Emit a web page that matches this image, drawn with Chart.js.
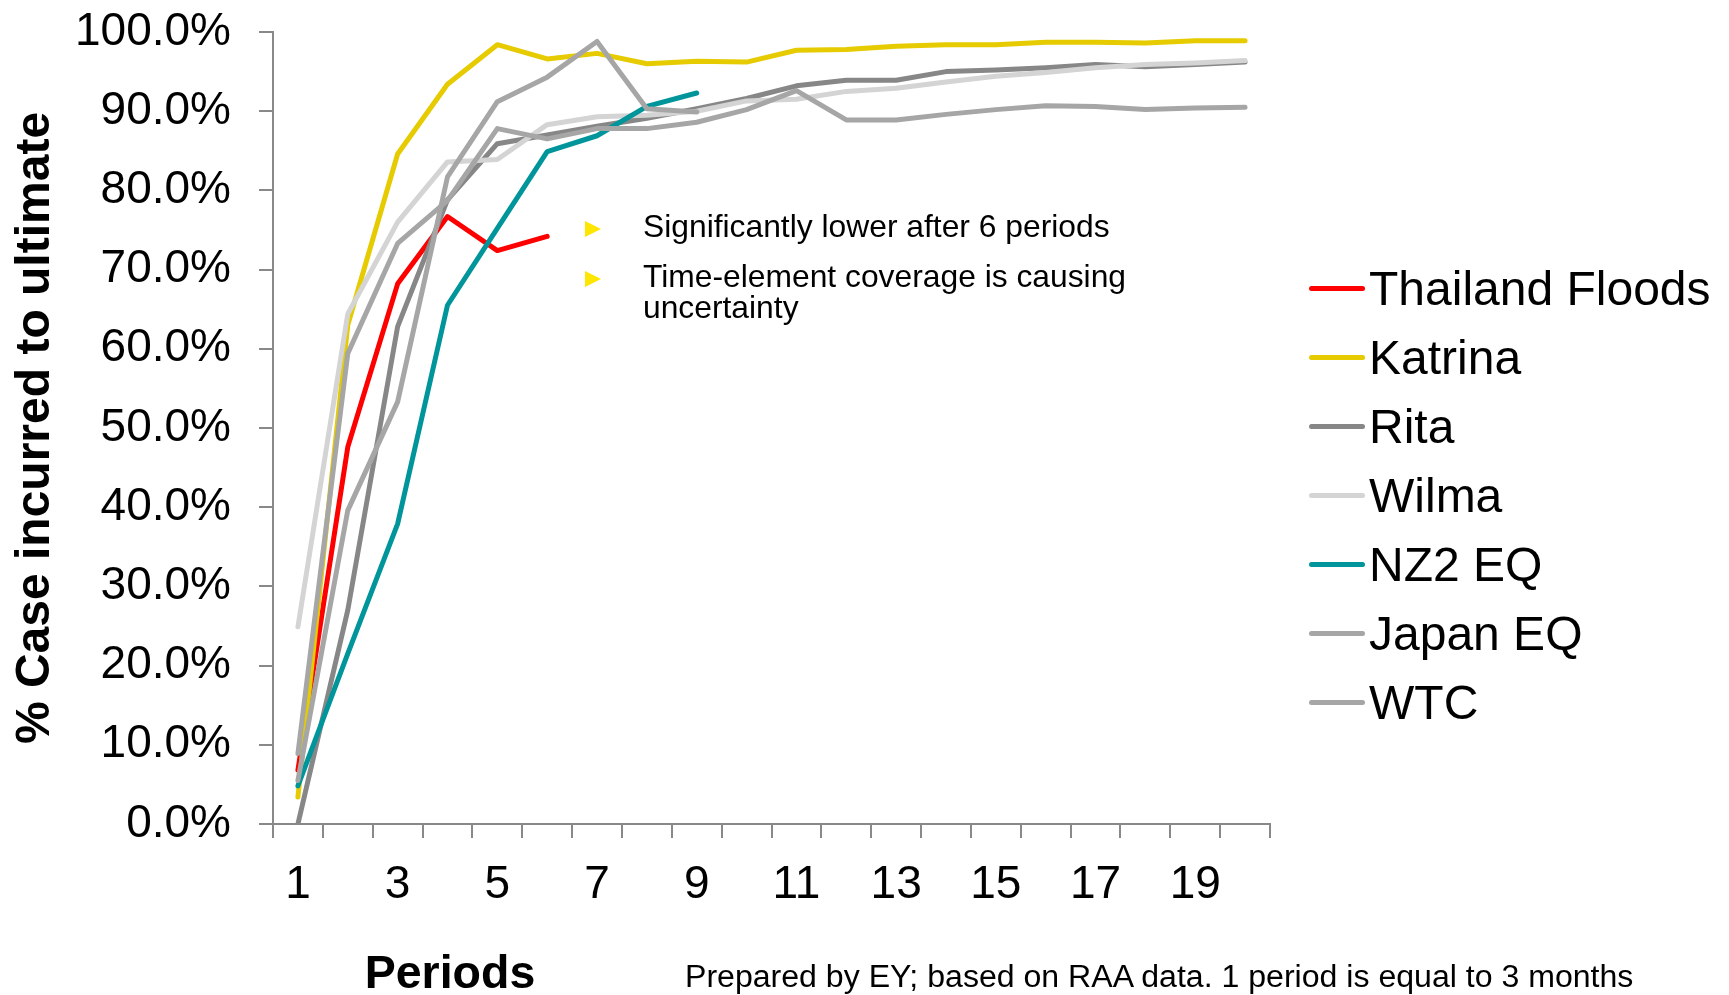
<!DOCTYPE html>
<html>
<head>
<meta charset="utf-8">
<title>% Case incurred to ultimate</title>
<script src="https://cdn.jsdelivr.net/npm/chart.js@4.4.0/dist/chart.umd.min.js"></script>
<style>
    body {
        margin: 0;
        background: #fff;
        font-family: "Liberation Sans", Arial, sans-serif;
    }
    #wrap {
        position: relative;
        width: 1729px;
        height: 995px;
    }
    #lossChart {
        position: absolute;
        left: 0;
        top: 0;
    }
    #legend-container {
        position: absolute;
        left: 1309px;
        top: 254px;
    }
    .note {
        position: absolute;
        left: 643px;
        font-size: 31.8px;
        line-height: 31px;
        color: #000;
        white-space: nowrap;
    }
    .note-arrow {
        position: absolute;
        left: 585px;
        width: 0;
        height: 0;
        border-top: 8px solid transparent;
        border-bottom: 8px solid transparent;
        border-left: 16px solid #FFE600;
    }
    #x-title {
        position: absolute;
        left: 450px;
        top: 949px;
        transform: translateX(-50%);
        font-size: 46.5px;
        line-height: 46.5px;
        font-weight: bold;
        white-space: nowrap;
    }
    #source {
        position: absolute;
        left: 685px;
        top: 960px;
        font-size: 32.1px;
        line-height: 32.1px;
        white-space: nowrap;
    }
</style>
</head>
<body>
<div id="wrap">
    <canvas id="lossChart" width="1729" height="995"></canvas>
    <div id="legend-container"></div>
    <div class="note-arrow" style="top: 221px;"></div>
    <div class="note" style="top: 211px;">Significantly lower after 6 periods</div>
    <div class="note-arrow" style="top: 271px;"></div>
    <div class="note" style="top: 261px;">Time-element coverage is causing<br>uncertainty</div>
    <div id="x-title">Periods</div>
    <div id="source">Prepared by EY; based on RAA data. 1 period is equal to 3 months</div>
</div>
<script>
// Periods (1 period = 3 months)
const periods = ['1', '2', '3', '4', '5', '6', '7', '8', '9', '10',
    '11', '12', '13', '14', '15', '16', '17', '18', '19', '20'];

// % case incurred to ultimate
const thailandFloods = [6.8, 47.6, 68.2, 76.7, 72.4, 74.2];
const katrina = [3.4, 63.0, 84.6, 93.4, 98.4, 96.6, 97.3, 96.0, 96.3, 96.2,
    97.7, 97.8, 98.2, 98.4, 98.4, 98.7, 98.7, 98.6, 98.9, 98.9];
const rita = [0.0, 27.0, 62.8, 78.8, 85.9, 87.0, 88.1, 89.1, 90.3, 91.6,
    93.2, 93.9, 93.9, 95.0, 95.2, 95.5, 95.9, 95.6, 95.9, 96.2];
const wilma = [24.9, 64.4, 76.0, 83.6, 83.9, 88.3, 89.3, 89.5, 90.0, 91.3,
    91.5, 92.5, 92.9, 93.7, 94.4, 94.9, 95.5, 95.9, 96.1, 96.4];
const nz2Eq = [4.8, 21.5, 37.9, 65.5, 75.2, 84.9, 86.9, 90.6, 92.3];
const japanEq = [5.5, 39.6, 53.3, 81.7, 91.2, 94.3, 98.8, 90.3, 89.9];
const wtc = [8.9, 59.4, 73.3, 78.7, 87.8, 86.5, 87.8, 87.8, 88.6, 90.2,
    92.6, 88.9, 88.9, 89.6, 90.2, 90.7, 90.6, 90.2, 90.4, 90.5];

const seriesNames = ['Thailand Floods', 'Katrina', 'Rita', 'Wilma', 'NZ2 EQ', 'Japan EQ', 'WTC'];
const seriesData = [thailandFloods, katrina, rita, wilma, nz2Eq, japanEq, wtc];
const seriesColors = ['#FF0000', '#E5CB00', '#878787', '#D4D4D4', '#00959B', '#A6A6A6', '#A6A6A6'];

const yTicks = [0, 10, 20, 30, 40, 50, 60, 70, 80, 90, 100];

const FONT = '"Liberation Sans", Arial, sans-serif';
const AXIS_GREY = '#898989';

Chart.defaults.font.family = FONT;
Chart.defaults.color = '#000';

const htmlLegendPlugin = {
    id: 'htmlLegend',
    afterUpdate(chart, args, options) {
        const container = document.getElementById(options.containerID);
        let ul = container.querySelector('ul');
        if (!ul) {
            ul = document.createElement('ul');
            ul.style.listStyle = 'none';
            ul.style.margin = 0;
            ul.style.padding = 0;
            container.appendChild(ul);
        }
        while (ul.firstChild) {
            ul.firstChild.remove();
        }

        // keep the series order, not the drawing order
        chart.data.datasets.forEach(ds => {
            const li = document.createElement('li');
            li.style.display = 'flex';
            li.style.alignItems = 'center';
            li.style.height = '69px';

            const swatch = document.createElement('span');
            swatch.style.display = 'inline-block';
            swatch.style.width = '56px';
            swatch.style.height = '5px';
            swatch.style.borderRadius = '2.5px';
            swatch.style.background = ds.borderColor;
            swatch.style.marginRight = '4px';

            const text = document.createElement('span');
            text.style.fontSize = '48px';
            text.style.color = '#000';
            text.style.whiteSpace = 'nowrap';
            text.textContent = ds.label;

            li.appendChild(swatch);
            li.appendChild(text);
            ul.appendChild(li);
        });
    }
};

const datasets = seriesNames.map((name, i) => ({
    label: name,
    data: seriesData[i],
    borderColor: seriesColors[i],
    backgroundColor: seriesColors[i],
    // later series drawn on top, like the original
    order: seriesNames.length - i
}));

const lossChart = new Chart('lossChart', {
    type: 'line',
    data: {
        labels: periods,
        datasets: datasets
    },
    options: {
        responsive: false,
        animation: false,
        layout: {
            padding: { top: 32, right: 459, left: 0, bottom: 0 }
        },
        elements: {
            point: { radius: 0 },
            line: {
                tension: 0,
                borderWidth: 5,
                borderCapStyle: 'round',
                borderJoinStyle: 'round'
            }
        },
        plugins: {
            legend: { display: false },
            tooltip: { enabled: false },
            htmlLegend: { containerID: 'legend-container' }
        },
        scales: {
            x: {
                offset: true,
                grid: {
                    offset: true,
                    drawOnChartArea: false,
                    tickLength: 14,
                    color: AXIS_GREY,
                    lineWidth: 2
                },
                border: { color: AXIS_GREY, width: 2 },
                ticks: {
                    autoSkip: false,
                    maxRotation: 0,
                    padding: 20,
                    font: { size: 46 },
                    callback: (value, index) => index % 2 === 0 ? periods[index] : ''
                },
                afterFit: scale => { scale.height = 171; }
            },
            y: {
                min: 0,
                max: 100,
                afterBuildTicks: scale => {
                    scale.ticks = yTicks.map(v => ({ value: v }));
                },
                grid: {
                    drawOnChartArea: false,
                    tickLength: 14,
                    color: AXIS_GREY,
                    lineWidth: 2
                },
                border: { color: AXIS_GREY, width: 2 },
                ticks: {
                    padding: 28,
                    font: { size: 46 },
                    callback: value => value.toFixed(1) + '%'
                },
                title: {
                    display: true,
                    text: '% Case incurred to ultimate',
                    font: { size: 48, weight: 'bold' },
                    padding: { top: 7 }
                },
                afterFit: scale => {
                    scale.width = 273;
                    // the top label may overhang; plot top is set by layout padding
                    scale.paddingTop = 0;
                    scale.paddingBottom = 0;
                }
            }
        }
    },
    plugins: [htmlLegendPlugin]
});
</script>
</body>
</html>
